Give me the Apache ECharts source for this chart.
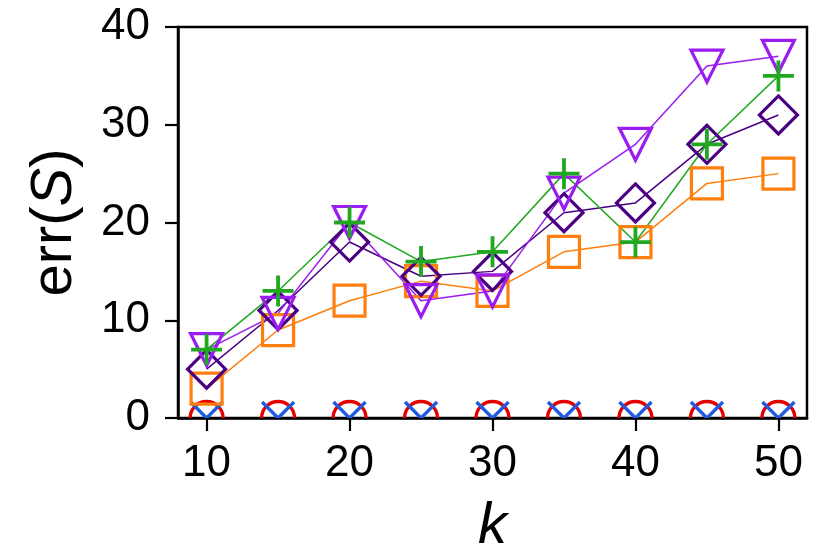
<!DOCTYPE html>
<html>
<head>
<meta charset="utf-8">
<script src="https://cdn.jsdelivr.net/npm/echarts@6/dist/echarts.min.js"></script>
<style>
html,body{margin:0;padding:0;background:#fff;overflow:hidden;}
#c{width:830px;height:554px;}
</style>
</head>
<body>
<div id="c"></div>
<script>
const kValues = [10, 15, 20, 25, 30, 35, 40, 45, 50];
const orangeSquare = [3, 9, 12, 14, 13, 17, 18, 24, 25];
const indigoDiamond = [5, 11, 18, 14.5, 15, 21, 22, 28, 31];
const purpleTriangle = [7, 10.7, 20, 12, 13, 23, 28, 36, 37];
const greenPlus = [7, 13, 20, 16, 17, 25, 18, 28, 35];
const redCircle = [0, 0, 0, 0, 0, 0, 0, 0, 0];
const blueCross = [0, 0, 0, 0, 0, 0, 0, 0, 0];
const xTicks = [10, 20, 30, 40, 50];

const pairs = vals => kValues.map((k, i) => [k, vals[i]]);
const FONT = "'Liberation Sans', Arial, Helvetica, sans-serif";

function lineSeries(vals, color, symbol, size, rotate, bw) {
  return {
    type: 'line',
    data: pairs(vals),
    symbol: symbol,
    symbolSize: size,
    symbolRotate: rotate || 0,
    showAllSymbol: true,
    lineStyle: { color: color, width: 1.5 },
    itemStyle: { color: 'rgba(0,0,0,0)', borderColor: color, borderWidth: bw || 3.2 },
    emphasis: { disabled: true },
    animation: false,
    clip: false
  };
}

const chart = echarts.init(document.getElementById('c'), null, { renderer: 'canvas' });
chart.setOption({
  backgroundColor: '#fff',
  animation: false,
  grid: {
    left: 178, right: 23, top: 27, bottom: 136,
    outerBoundsMode: 'none', containLabel: false,
    show: true, borderColor: '#000', borderWidth: 2.5, backgroundColor: 'transparent'
  },
  xAxis: {
    type: 'value', min: 8, max: 52,
    splitLine: { show: false },
    axisLine: { show: true, onZero: false, lineStyle: { color: '#000', width: 2.5 } },
    axisTick: { show: true, inside: false, length: 13, lineStyle: { color: '#000', width: 2.2 }, customValues: xTicks },
    axisLabel: { color: '#000', fontSize: 44, fontFamily: FONT, margin: 24, customValues: xTicks },
    name: 'k', nameLocation: 'middle', nameGap: 80,
    nameTextStyle: { color: '#000', fontSize: 58, fontStyle: 'italic', fontFamily: FONT }
  },
  yAxis: {
    type: 'value', min: 0, max: 40, interval: 10,
    splitLine: { show: false },
    axisLine: { show: true, lineStyle: { color: '#000', width: 2.5 } },
    axisTick: { show: true, inside: false, length: 13, lineStyle: { color: '#000', width: 2.2 } },
    axisLabel: { color: '#000', fontSize: 44, fontFamily: FONT, margin: 28 },
    name: '{a|err(}{b|S}{a|)}', nameLocation: 'middle', nameGap: 94, nameRotate: 90,
    nameTextStyle: {
      color: '#000', fontSize: 58, fontFamily: FONT,
      rich: {
        a: { fontSize: 58, fontFamily: FONT, color: '#000' },
        b: { fontSize: 58, fontFamily: FONT, color: '#000', fontStyle: 'italic' }
      }
    }
  },
  series: [
    lineSeries(orangeSquare, '#ff7f0e', 'rect', 31),
    lineSeries(indigoDiamond, '#4b0082', 'diamond', 38),
    lineSeries(purpleTriangle, '#9a1cf0', 'triangle', 32, 180),
    lineSeries(greenPlus, '#20a820', 'path://M0,-1V1M-1,0H1', 31, 0, 3.8),
    {
      type: 'custom',
      clip: true,
      data: pairs(redCircle),
      encode: { x: 0, y: 1 },
      animation: false,
      renderItem: function (params, api) {
        const p = api.coord([api.value(0), api.value(1)]);
        return {
          type: 'circle',
          shape: { cx: p[0], cy: p[1], r: 16.5 },
          style: { fill: 'none', stroke: '#e50000', lineWidth: 3.4 }
        };
      }
    },
    {
      type: 'custom',
      clip: true,
      data: pairs(blueCross),
      encode: { x: 0, y: 1 },
      animation: false,
      renderItem: function (params, api) {
        const p = api.coord([api.value(0), api.value(1)]);
        const h = 16;
        return {
          type: 'group',
          children: [
            { type: 'line', shape: { x1: p[0] - h, y1: p[1] - h, x2: p[0] + h, y2: p[1] + h },
              style: { stroke: '#1f5be0', lineWidth: 3.4 } },
            { type: 'line', shape: { x1: p[0] - h, y1: p[1] + h, x2: p[0] + h, y2: p[1] - h },
              style: { stroke: '#1f5be0', lineWidth: 3.4 } }
          ]
        };
      }
    }
  ]
});
</script>
</body>
</html>
